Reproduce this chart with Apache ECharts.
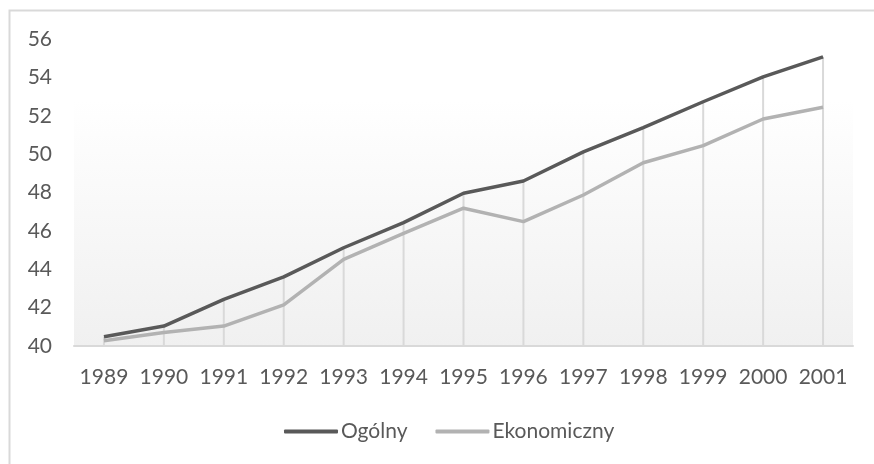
<!DOCTYPE html>
<html>
<head>
<meta charset="utf-8">
<style>
html,body{margin:0;padding:0;background:#fff;}
#chart{width:874px;height:464px;}
</style>
<script src="https://cdn.jsdelivr.net/npm/echarts@6/dist/echarts.min.js"></script>
</head>
<body>
<div id="chart"></div>
<script>
var years = ['1989','1990','1991','1992','1993','1994','1995','1996','1997','1998','1999','2000','2001'];
var ogolny = [40.48, 41.04, 42.43, 43.6, 45.12, 46.43, 47.96, 48.6, 50.12, 51.38, 52.73, 54.03, 55.07];
var ekonomiczny = [40.27, 40.7, 41.04, 42.14, 44.52, 45.87, 47.18, 46.48, 47.87, 49.55, 50.44, 51.83, 52.44];
var yMin = 40, yMax = 56, yStep = 2;

var font = 'Lato, "Open Sans", sans-serif';
var chart = echarts.init(document.getElementById('chart'), null, {renderer: 'canvas'});
chart.setOption({
  backgroundColor: '#ffffff',
  animation: false,
  graphic: [{
    type: 'rect',
    shape: {x: 9.5, y: 10.5, width: 900, height: 500},
    style: {fill: 'none', stroke: '#d9d9d9', lineWidth: 2},
    silent: true, z: -10
  }],
  grid: {
    left: 74, right: 21, top: 39, bottom: 118,
    show: true, borderWidth: 0,
    backgroundColor: {
      type: 'linear', x: 0, y: 0, x2: 0, y2: 1,
      colorStops: [{offset: 0, color: '#ffffff'}, {offset: 0.2, color: '#ffffff'}, {offset: 1, color: '#f0f0f0'}]
    }
  },
  legend: {
    data: ['Ogólny', 'Ekonomiczny'],
    left: 279, top: 416,
    icon: 'roundRect',
    itemWidth: 54, itemHeight: 4, itemGap: 28,
    textStyle: {fontFamily: font, fontSize: 21, color: '#595959', padding: [0, 0, 0, -2]}
  },
  xAxis: {
    type: 'category', data: years, boundaryGap: true,
    axisLine: {show: true, lineStyle: {color: '#d9d9d9', width: 2}},
    axisTick: {show: false},
    axisLabel: {fontFamily: font, fontSize: 21, color: '#595959', margin: 21, interval: 0, hideOverlap: false},
    splitLine: {show: false}
  },
  yAxis: {
    type: 'value', min: yMin, max: yMax, interval: yStep,
    axisLine: {show: false}, axisTick: {show: false},
    axisLabel: {fontFamily: font, fontSize: 21, color: '#595959', margin: 22},
    splitLine: {show: false}
  },
  series: [
    {
      name: 'drop', type: 'bar', data: ogolny, barWidth: 2,
      itemStyle: {color: '#d9d9d9'}, silent: true, z: 1,
      emphasis: {disabled: true}
    },
    {
      name: 'Ekonomiczny', type: 'line', data: ekonomiczny, symbol: 'none',
      lineStyle: {color: '#b2b2b2', width: 3.5}, itemStyle: {color: '#b2b2b2'}, z: 3
    },
    {
      name: 'Ogólny', type: 'line', data: ogolny, symbol: 'none',
      lineStyle: {color: '#595959', width: 3.5}, itemStyle: {color: '#595959'}, z: 4
    }
  ]
});
</script>
</body>
</html>
